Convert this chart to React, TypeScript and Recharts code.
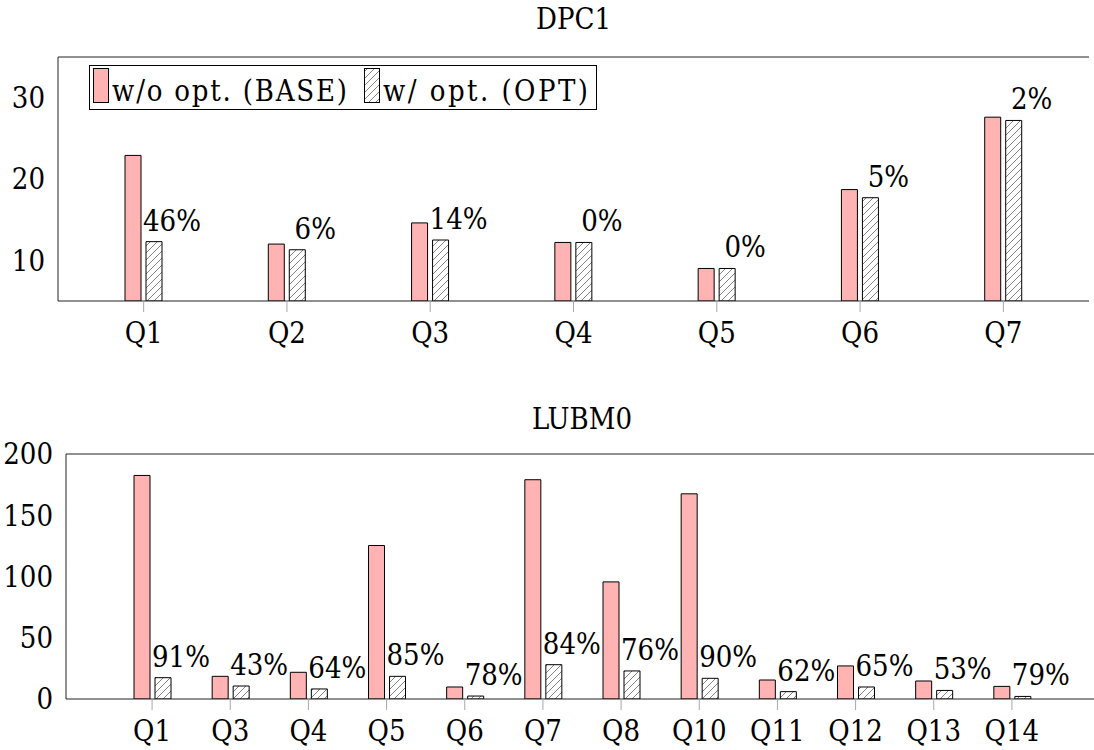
import { BarChart, Bar, XAxis, YAxis, LabelList, Legend } from "recharts";

// DPC1 panel
const dpcQueries = ["Q1", "Q2", "Q3", "Q4", "Q5", "Q6", "Q7"];
const dpcBase = [22.9, 12.0, 14.6, 12.2, 9.0, 18.7, 27.6];
const dpcOpt = [12.3, 11.3, 12.5, 12.2, 9.0, 17.7, 27.2];
const dpcGain = ["46%", "6%", "14%", "0%", "0%", "5%", "2%"];
const dpcTicks = [10, 20, 30];

// LUBM0 panel
const lubmQueries = ["Q1", "Q3", "Q4", "Q5", "Q6", "Q7", "Q8", "Q10", "Q11", "Q12", "Q13", "Q14"];
const lubmBase = [182.5, 18.5, 21.8, 125.3, 9.8, 179, 95.6, 167.5, 15.5, 27, 14.7, 10.3];
const lubmOpt = [17.4, 10.6, 8.2, 18.5, 2.4, 28, 22.9, 16.9, 6.0, 9.8, 7.0, 2.1];
const lubmGain = ["91%", "43%", "64%", "85%", "78%", "84%", "76%", "90%", "62%", "65%", "53%", "79%"];
const lubmTicks = [0, 50, 100, 150, 200];

const FONT = "'DejaVu Serif Condensed', 'DejaVu Serif', serif";
const FS = 29;
const PINK = "#ffb3b3";
const SPINE = "#222";
const TICK = "#a8a8a8";

const tickFont = { fill: "#000", fontFamily: FONT, fontSize: FS };

function GainLabel(props: any) {
  const x = props.x ?? props.viewBox?.x;
  const y = props.y ?? props.viewBox?.y;
  const w = props.width ?? props.viewBox?.width ?? 0;
  if (x == null || y == null) return null;
  return (
    <text x={x + w / 2 + 18} y={y - 11} textAnchor="middle" fontFamily={FONT} fontSize={FS} fill="#000">
      {props.value}
    </text>
  );
}

function Hatch({ id }: { id: string }) {
  return (
    <pattern id={id} patternUnits="userSpaceOnUse" width={7} height={7}>
      <rect width={7} height={7} fill="#fff" />
      <path d="M-1,1 l2,-2 M0,7 l7,-7 M6,8 l2,-2" stroke="#777" strokeWidth={0.9} />
    </pattern>
  );
}

// legend drawn as one svg so the text can be stretched to the reference widths
function LegendBox(props: any) {
  const items = props.payload || [];
  const base = items.find((p: any) => p.dataKey === "base");
  const opt = items.find((p: any) => p.dataKey === "opt");
  return (
    <div
      style={{
        width: 508,
        height: 45,
        border: "1px solid #000",
        boxSizing: "border-box",
        background: "#fff",
      }}
    >
      <svg width={506} height={43} style={{ display: "block" }}>
        <defs>
          <Hatch id="legendHatch" />
        </defs>
        <rect x={3.5} y={2.5} width={15} height={34} fill={PINK} stroke="#000" />
        <text x={22} y={35} fontFamily={FONT} fontSize={FS} textLength={235} lengthAdjust="spacing">
          {base ? base.value : ""}
        </text>
        <rect x={274.5} y={2.5} width={15} height={34} fill="url(#legendHatch)" stroke="#000" />
        <text x={293} y={35} fontFamily={FONT} fontSize={FS} textLength={205} lengthAdjust="spacing">
          {opt ? opt.value : ""}
        </text>
      </svg>
    </div>
  );
}

type Row = { name: string; base: number; opt: number; gain: string };

function Panel(props: {
  title: string;
  data: Row[];
  domain: [number, number];
  ticks: number[];
  top: number;
  width: number;
  height: number;
  margin: { top: number; right: number; bottom: number; left: number };
  yWidth: number;
  pad: number;
  hatchId: string;
  legend?: boolean;
}) {
  const { data, domain, ticks, margin, yWidth, pad, hatchId } = props;
  const plotLeft = margin.left + yWidth;
  const plotWidth = props.width - margin.right - plotLeft;
  return (
    <div style={{ position: "absolute", left: 0, top: props.top, width: props.width, height: props.height }}>
      <div
        style={{
          position: "absolute",
          left: plotLeft,
          width: plotWidth,
          top: 4,
          textAlign: "center",
          fontFamily: FONT,
          fontSize: FS,
          lineHeight: "30px",
          color: "#000",
        }}
      >
        {props.title}
      </div>
      <BarChart width={props.width} height={props.height} data={data} margin={margin} barGap={5}>
        <defs>
          <Hatch id={hatchId} />
        </defs>
        <XAxis
          xAxisId="b"
          dataKey="name"
          type="category"
          height={40}
          padding={{ left: pad, right: pad }}
          axisLine={{ stroke: SPINE }}
          tickLine={{ stroke: TICK }}
          tickSize={11}
          tickMargin={10}
          tick={tickFont}
          interval={0}
        />
        <XAxis
          xAxisId="t"
          dataKey="name"
          type="category"
          orientation="top"
          height={1}
          padding={{ left: pad, right: pad }}
          axisLine={{ stroke: SPINE }}
          tickLine={{ stroke: TICK }}
          tickSize={11}
          tick={false}
          interval={0}
        />
        <YAxis
          yAxisId="y"
          type="number"
          domain={domain}
          ticks={ticks}
          width={yWidth}
          axisLine={{ stroke: SPINE }}
          tickLine={false}
          tickSize={0}
          tickMargin={13}
          tick={tickFont}
          allowDataOverflow
        />
        <YAxis
          yAxisId="yt"
          type="number"
          domain={domain}
          ticks={ticks}
          mirror
          width={0}
          axisLine={false}
          tickLine={{ stroke: TICK }}
          tickSize={11}
          tick={false}
          allowDataOverflow
        />
        <YAxis
          yAxisId="r"
          type="number"
          orientation="right"
          domain={domain}
          ticks={ticks}
          mirror
          width={0}
          axisLine={{ stroke: SPINE }}
          tickLine={{ stroke: TICK }}
          tickSize={11}
          tick={false}
          allowDataOverflow
        />
        {props.legend && (
          <Legend
            layout="horizontal"
            verticalAlign="middle"
            align="center"
            content={LegendBox}
            wrapperStyle={{ left: 89, top: 65, width: 508, height: 45 }}
          />
        )}
        <Bar
          xAxisId="b"
          yAxisId="y"
          dataKey="base"
          name="w/o opt. (BASE)"
          fill={PINK}
          stroke="#000"
          strokeWidth={1}
          barSize={16}
          isAnimationActive={false}
        />
        <Bar
          xAxisId="b"
          yAxisId="y"
          dataKey="opt"
          name="w/ opt. (OPT)"
          fill={`url(#${hatchId})`}
          stroke="#000"
          strokeWidth={1}
          barSize={16}
          isAnimationActive={false}
        >
          <LabelList dataKey="gain" content={GainLabel} />
        </Bar>
      </BarChart>
    </div>
  );
}

const dpcData: Row[] = dpcQueries.map((q, i) => ({ name: q, base: dpcBase[i], opt: dpcOpt[i], gain: dpcGain[i] }));
const lubmData: Row[] = lubmQueries.map((q, i) => ({ name: q, base: lubmBase[i], opt: lubmOpt[i], gain: lubmGain[i] }));

export default function App() {
  return (
    <div
      style={{
        position: "absolute",
        left: 0,
        top: 0,
        width: 1094,
        height: 750,
        overflow: "hidden",
        background: "#fff",
      }}
    >
      <Panel
        title="DPC1"
        data={dpcData}
        domain={[5, 35]}
        ticks={dpcTicks}
        top={0}
        width={1094}
        height={360}
        margin={{ top: 56, right: 5, bottom: 19, left: 0 }}
        yWidth={58}
        pad={14}
        hatchId="hatchDpc"
        legend
      />
      <Panel
        title="LUBM0"
        data={lubmData}
        domain={[0, 200]}
        ticks={lubmTicks}
        top={400}
        width={1100}
        height={350}
        margin={{ top: 53, right: 2, bottom: 11, left: 0 }}
        yWidth={66}
        pad={47}
        hatchId="hatchLubm"
      />
    </div>
  );
}
